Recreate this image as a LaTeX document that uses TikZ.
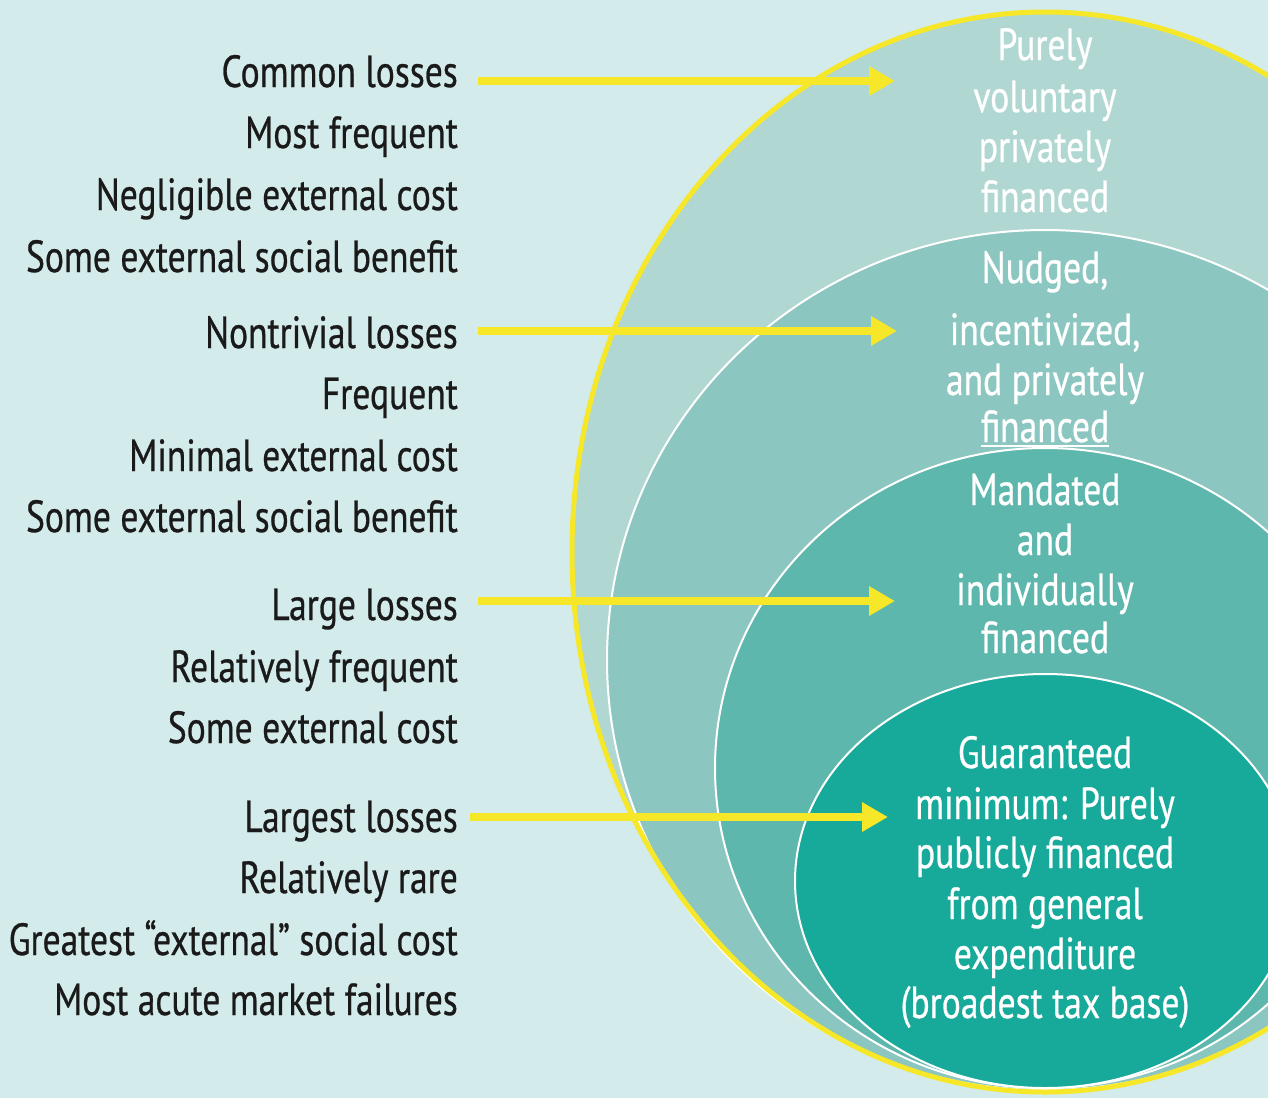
\documentclass[tikz,border=0pt]{standalone}
\usepackage{fontspec}
\setmainfont[FakeStretch=0.79,FakeBold=0.6]{PT Sans}
\usetikzlibrary{arrows.meta,calc}
\definecolor{bg}{HTML}{D3EBEA}
\definecolor{ringA}{HTML}{B1D7D3}
\definecolor{ringB}{HTML}{8CC6C0}
\definecolor{ringC}{HTML}{5EB7AD}
\definecolor{ringD}{HTML}{17A99A}
\definecolor{yel}{HTML}{F6E829}
\definecolor{ink}{HTML}{1A1A1A}
\tikzset{
  lt/.style={anchor=base east, inner sep=0pt, text=ink, font=\fontsize{45}{54}\selectfont},
  rt/.style={anchor=base, inner sep=0pt, text=white, font=\fontsize{45}{54}\selectfont},
  arr/.style={draw=yel, line width=8.5pt, -{Triangle[length=26pt,width=28pt]}},
  ring/.style={draw=white, line width=2pt}
}
\begin{document}
\begin{tikzpicture}[x=1pt,y={(0pt,-1pt)}]
\useasboundingbox (0,0) rectangle (1268,1098);
\fill[bg] (0,0) rectangle (1268,1098);
\begin{scope}
\clip (0,0) rectangle (1268,1098);
\fill[ringA] (1045,552) ellipse [x radius=473pt, y radius=540pt];
\filldraw[ring, fill=ringB] (1045,660) ellipse [x radius=438pt, y radius=430pt];
\filldraw[ring, fill=ringC] (1045,768) ellipse [x radius=330pt, y radius=320pt];
\filldraw[ring, fill=ringD] (1045,881) ellipse [x radius=250pt, y radius=207pt];
\draw[yel, line width=5pt] (1045,552) ellipse [x radius=473pt, y radius=540pt];
\end{scope}

\foreach \nm/\txt/\yy in {
  l1/Common losses/87, l2/Most frequent/148, l3/Negligible external cost/210, l4/Some external social benefit/272,
  l5/Nontrivial losses/348, l6/Frequent/409, l7/Minimal external cost/471, l8/Some external social benefit/532,
  l9/Large losses/620, l10/Relatively frequent/682, l11/Some external cost/743,
  l12/Largest losses/832, l13/Relatively rare/893, l14/Greatest “external” social cost/955, l15/Most acute market failures/1015}
  \node[lt] (\nm) at (458,\yy) {\txt};

\foreach \nm/\txt/\yy in {
  r1/Purely/60, r2/voluntary/112, r3/privately/162, r4/financed/212,
  r5/{Nudged,}/283, r6/{incentivized,}/345, r7/and privately/395, r8/financed/442,
  r9/Mandated/505, r10/and/555, r11/individually/605, r12/financed/653,
  r13/Guaranteed/768, r14/minimum: Purely/819, r15/publicly financed/868, r16/from general/919,
  r17/expenditure/969, r18/(broadest tax base)/1018}
  \node[rt] (\nm) at (1045,\yy) {\txt};

\draw[white, line width=1.5pt] ([yshift=-4pt]r8.base west) -- ([yshift=-4pt]r8.base east);

\coordinate (t1) at (895,81);
\coordinate (t2) at (897,331);
\coordinate (t3) at (895,601);
\coordinate (t4) at (888,817);
\draw[arr] ([xshift=20pt]l1.base east |- t1) -- (t1);
\draw[arr] ([xshift=20pt]l5.base east |- t2) -- (t2);
\draw[arr] ([xshift=20pt]l9.base east |- t3) -- (t3);
\draw[arr] ([xshift=12pt]l12.base east |- t4) -- (t4);
\end{tikzpicture}
\end{document}
